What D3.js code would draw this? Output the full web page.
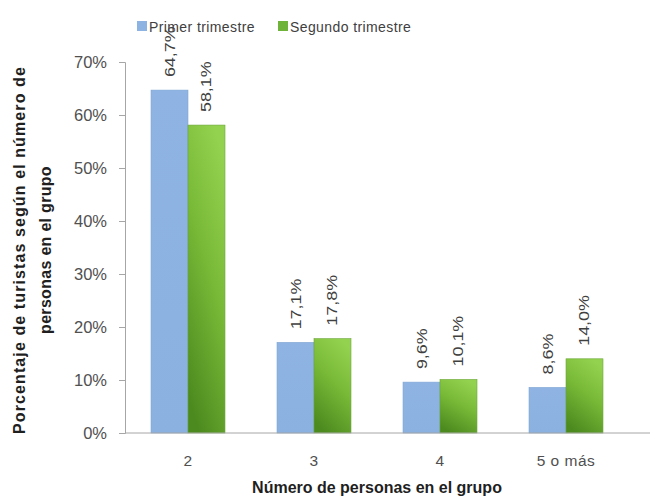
<!DOCTYPE html>
<html>
<head>
<meta charset="utf-8">
<script src="https://cdn.jsdelivr.net/npm/d3@7"></script>
<style>
  html, body { margin: 0; padding: 0; background: #ffffff; }
  svg { display: block; font-family: "Liberation Sans", Arial, sans-serif; }
</style>
</head>
<body>
<svg id="chart" width="657" height="501"></svg>
<script>
// ---- data ----
const categories = ["2", "3", "4", "5 o más"];
const seriesNames = ["Primer trimestre", "Segundo trimestre"];
const primer = [64.7, 17.1, 9.6, 8.6];
const segundo = [58.1, 17.8, 10.1, 14.0];
const yTicks = [0, 10, 20, 30, 40, 50, 60, 70];
const yTitleLines = ["Porcentaje de turistas según el número de", "personas en el grupo"];
const xTitle = "Número de personas en el grupo";

const seriesValues = [primer, segundo];
const rows = categories.map((c, i) => ({
  cat: c,
  vals: seriesNames.map((s, k) => ({ series: s, k: k, value: seriesValues[k][i] }))
}));

const svg = d3.select("#chart");
const W = 657, H = 501;

// gradients
const defs = svg.append("defs");
const gGreen = defs.append("linearGradient").attr("id", "gGreen")
  .attr("x1", 0.7).attr("y1", 0).attr("x2", 0.3).attr("y2", 1);
gGreen.append("stop").attr("offset", "0%").attr("stop-color", "#93d24f");
gGreen.append("stop").attr("offset", "45%").attr("stop-color", "#78b937");
gGreen.append("stop").attr("offset", "100%").attr("stop-color", "#4c8a1f");

const gBlue = defs.append("linearGradient").attr("id", "gBlue")
  .attr("x1", 0).attr("y1", 0).attr("x2", 0).attr("y2", 1);
gBlue.append("stop").attr("offset", "0%").attr("stop-color", "#8fb4e3");
gBlue.append("stop").attr("offset", "100%").attr("stop-color", "#8ab1e0");

const fills = ["url(#gBlue)", "url(#gGreen)"];
const strokes = ["#7ea4d2", "#6aa636"];
const legendColors = ["#8db3e2", "#6fb33a"];

// scales
const plotLeft = 125, plotRight = 629, plotBottom = 433, plotTop = 62;
const x0 = d3.scaleBand().domain(categories).range([plotLeft, plotRight])
  .paddingInner(0.413).paddingOuter(0.2065);
const x1 = d3.scaleBand().domain(seriesNames).range([0, x0.bandwidth()]);
const y = d3.scaleLinear().domain([0, 70]).range([plotBottom, plotTop]);

// y axis
const yAxis = d3.axisLeft(y).tickValues(yTicks).tickSize(6).tickPadding(12)
  .tickFormat(d => d + "%");
const gy = svg.append("g").attr("transform", `translate(${plotLeft},0)`).call(yAxis);
gy.select(".domain").attr("stroke", "#a6a6a6");
gy.selectAll(".tick line").attr("stroke", "#a6a6a6");
gy.selectAll(".tick text").attr("fill", "#505050").attr("font-size", 16.5)
  .attr("font-family", "Liberation Sans, Arial, sans-serif");

// bars
const groups = svg.append("g").selectAll("g").data(rows).join("g")
  .attr("transform", d => `translate(${x0(d.cat)},0)`);
groups.selectAll("rect").data(d => d.vals).join("rect")
  .attr("x", d => x1(d.series))
  .attr("y", d => y(d.value))
  .attr("width", x1.bandwidth())
  .attr("height", d => y(0) - y(d.value))
  .attr("fill", d => fills[d.k])
  .attr("stroke", d => strokes[d.k])
  .attr("stroke-width", 0.6);

// data labels (rotated)
groups.selectAll("text").data(d => d.vals).join("text")
  .attr("transform", d => `translate(${x1(d.series) + x1.bandwidth() / 2 + 5},${y(d.value) - 13}) rotate(-90) scale(1.28,1)`)
  .attr("text-anchor", "start")
  .attr("fill", "#404040")
  .attr("font-size", 14)
  .text(d => d.value.toFixed(1).replace(".", ",") + "%");

// x axis
const xAxis = d3.axisBottom(x0).tickSize(0).tickPadding(22);
const gx = svg.append("g").attr("transform", `translate(0,${plotBottom})`).call(xAxis);
gx.select(".domain").remove();
gx.selectAll(".tick text").attr("fill", "#505050").attr("font-size", 15.5)
  .attr("font-family", "Liberation Sans, Arial, sans-serif")
  .attr("letter-spacing", 0.5);
svg.append("line").attr("x1", plotLeft).attr("x2", 650).attr("y1", plotBottom).attr("y2", plotBottom)
  .attr("stroke", "#a6a6a6");

// x title
svg.append("text")
  .attr("x", (x0(categories[0]) + x0(categories[3]) + x0.bandwidth()) / 2)
  .attr("y", 493)
  .attr("text-anchor", "middle")
  .attr("font-weight", "bold")
  .attr("font-size", 16)
  .attr("fill", "#1f1f1f")
  .text(xTitle);

// y title
const yTitleX = [25, 51];
const yTitleSpacing = [1.1, 0.3];
yTitleLines.forEach((t, i) => {
  svg.append("text")
    .attr("transform", `translate(${yTitleX[i]},250) rotate(-90)`)
    .attr("text-anchor", "middle")
    .attr("font-weight", "bold")
    .attr("font-size", 16)
    .attr("fill", "#1f1f1f")
    .attr("letter-spacing", yTitleSpacing[i])
    .text(t);
});

// legend
const legend = svg.append("g");
const legX = [137, 278];
seriesNames.forEach((s, i) => {
  legend.append("rect").attr("x", legX[i]).attr("y", 21).attr("width", 10).attr("height", 10)
    .attr("fill", legendColors[i]);
  legend.append("text").attr("x", legX[i] + 12).attr("y", 32)
    .attr("fill", "#404040").attr("font-size", 14).attr("letter-spacing", 0.4)
    .text(s);
});
</script>
</body>
</html>
